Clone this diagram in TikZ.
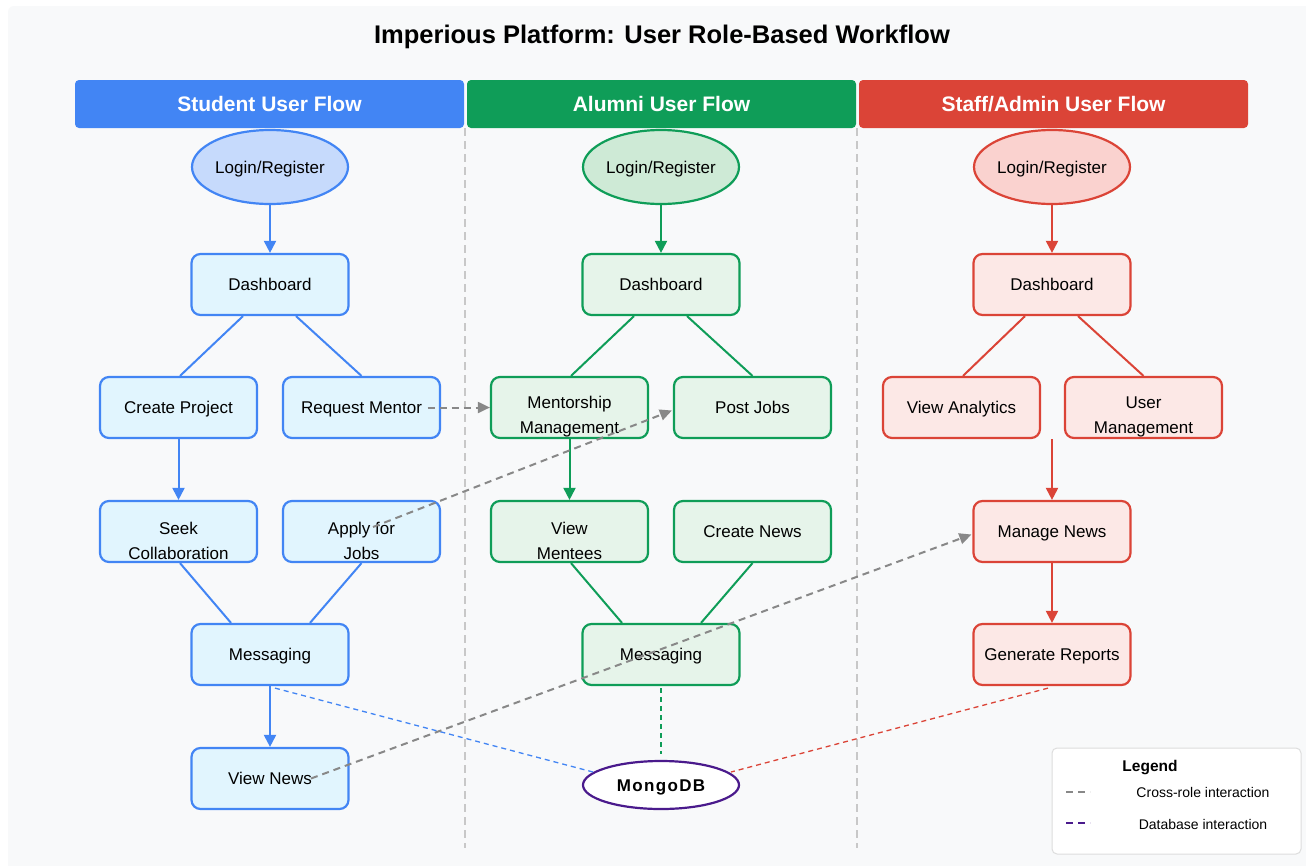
\documentclass[tikz,border=0pt]{standalone}
\usepackage{fontspec}
\setmainfont{Liberation Sans}
\usetikzlibrary{arrows.meta,shapes.geometric,calc}
\definecolor{panel}{HTML}{F8F9FA}
\definecolor{sblue}{HTML}{4285F4}
\definecolor{sfill}{HTML}{E1F5FE}
\definecolor{sell}{HTML}{C6DAFC}
\definecolor{agreen}{HTML}{0F9D58}
\definecolor{afill}{HTML}{E6F4EA}
\definecolor{aell}{HTML}{CEEAD6}
\definecolor{rred}{HTML}{DB4437}
\definecolor{rfill}{HTML}{FCE8E6}
\definecolor{rell}{HTML}{FAD2CF}
\definecolor{divc}{HTML}{C8C8C8}
\definecolor{crossc}{HTML}{888888}
\definecolor{mpurple}{HTML}{4A1A8C}
\definecolor{legc}{HTML}{DDDDDD}
\begin{document}
\begin{tikzpicture}[x=1pt,y=-1pt,
  hdr/.style={rounded corners=4pt, minimum width=389pt, minimum height=48pt, inner sep=0pt,
    text=white, font=\bfseries\fontsize{21}{24}\selectfont, text height=15pt, text depth=0pt},
  box/.style={draw, rounded corners=9pt, line width=2.2pt, minimum width=157pt, minimum height=61pt,
    inner sep=0pt, font=\fontsize{17}{25}\selectfont, align=center, text height=12.5pt, text depth=0pt},
  login/.style={ellipse, draw, line width=2.2pt, minimum width=156pt, minimum height=74pt, inner sep=0pt,
    font=\fontsize{17}{20}\selectfont, text height=12.5pt, text depth=0pt},
  two/.style={label={[font=\fontsize{17}{25}\selectfont, align=center, yshift=-9pt]center:#1}},
  sbox/.style={box, draw=sblue, fill=sfill},
  abox/.style={box, draw=agreen, fill=afill},
  rbox/.style={box, draw=rred, fill=rfill},
  tip/.style={-{Triangle[length=12pt,width=12pt]}},
  sflow/.style={draw=sblue, line width=2pt},
  aflow/.style={draw=agreen, line width=2pt},
  rflow/.style={draw=rred, line width=2pt},
  cross/.style={draw=crossc, line width=2pt, dash pattern=on 7pt off 5pt,
    -{Triangle[length=12pt,width=11pt]}},
  dbline/.style={line width=1.3pt, dash pattern=on 5pt off 4pt},
  divider/.style={draw=divc, line width=2pt, dash pattern=on 8pt off 5pt},
  legtext/.style={font=\fontsize{14}{16}\selectfont}
]
\useasboundingbox (0,0) rectangle (1306,865);
\fill[white] (0,0) rectangle (1306,865);
\fill[panel, rounded corners=6pt] (8,6) rectangle (1320,880);

% title
\node[font=\bfseries\fontsize{25.5}{28}\selectfont, text height=18.5pt, text depth=0pt] (title) at (662,34) {Imperious Platform: User Role-Based Workflow};

% dividers
\draw[divider] (465,128) -- (465,848);
\draw[divider] (857,128) -- (857,848);

% headers
\node[hdr, fill=sblue] (hs) at (269.5,104) {Student User Flow};
\node[hdr, fill=agreen] (ha) at (661.5,104) {Alumni User Flow};
\node[hdr, fill=rred] (hr) at (1053.5,104) {Staff/Admin User Flow};

% student column
\node[login, draw=sblue, fill=sell] (slog) at (270,167) {Login/Register};
\node[sbox] (sdash) at (270,284.5) {Dashboard};
\node[sbox] (scp) at (178.5,407.5) {Create Project};
\node[sbox] (sreq) at (361.5,407.5) {Request Mentor};
\node[sbox, two={Seek\\Collaboration}] (sseek) at (178.5,531.5) {};
\node[sbox, two={Apply for\\Jobs}] (sapp) at (361.5,531.5) {};
\node[sbox] (smsg) at (270,654.5) {Messaging};
\node[sbox] (svn) at (270,778.5) {View News};

\draw[sflow, tip] (slog.south) -- (sdash.north);
\draw[sflow] ($(sdash.south)+(-27,0)$) -- ($(scp.north)+(1.5,0)$);
\draw[sflow] ($(sdash.south)+(26,0)$) -- ($(sreq.north)+(0,0)$);
\draw[sflow, tip] (scp.south) -- (sseek.north);
\draw[sflow] ($(sseek.south)+(1.5,0)$) -- ($(smsg.north)+(-39,0)$);
\draw[sflow] (sapp.south) -- ($(smsg.north)+(40,0)$);
\draw[sflow, tip] (smsg.south) -- (svn.north);

% alumni column
\node[login, draw=agreen, fill=aell] (alog) at (661,167) {Login/Register};
\node[abox] (adash) at (661,284.5) {Dashboard};
\node[abox, two={Mentorship\\Management}] (amm) at (569.5,407.5) {};
\node[abox] (apj) at (752.5,407.5) {Post Jobs};
\node[abox, two={View\\Mentees}] (avm) at (569.5,531.5) {};
\node[abox] (acn) at (752.5,531.5) {Create News};
\node[abox] (amsg) at (661,654.5) {Messaging};

\draw[aflow, tip] (alog.south) -- (adash.north);
\draw[aflow] ($(adash.south)+(-27,0)$) -- ($(amm.north)+(1.5,0)$);
\draw[aflow] ($(adash.south)+(26,0)$) -- (apj.north);
\draw[aflow, tip] (amm.south) -- (avm.north);
\draw[aflow] ($(avm.south)+(1.5,0)$) -- ($(amsg.north)+(-39,0)$);
\draw[aflow] (acn.south) -- ($(amsg.north)+(40,0)$);

% staff column
\node[login, draw=rred, fill=rell] (rlog) at (1052,167) {Login/Register};
\node[rbox] (rdash) at (1052,284.5) {Dashboard};
\node[rbox] (rva) at (961.5,407.5) {View Analytics};
\node[rbox, two={User\\Management}] (rum) at (1143.5,407.5) {};
\node[rbox] (rmn) at (1052,531.5) {Manage News};
\node[rbox] (rgr) at (1052,654.5) {Generate Reports};
\coordinate (rsplit) at (1052,439);

\draw[rflow, tip] (rlog.south) -- (rdash.north);
\draw[rflow] ($(rdash.south)+(-27,0)$) -- ($(rva.north)+(1.5,0)$);
\draw[rflow] ($(rdash.south)+(26,0)$) -- (rum.north);
\draw[rflow, tip] (rsplit) -- (rmn.north);
\draw[rflow, tip] (rmn.south) -- (rgr.north);

% database
\node[ellipse, draw=mpurple, fill=white, line width=2.2pt, minimum width=156pt, minimum height=48pt,
  inner sep=0pt, text height=12.5pt, text depth=0pt,
  font=\bfseries\fontsize{17}{20}\selectfont\addfontfeatures{LetterSpace=8}] (mongo) at (661,785) {MongoDB};

\draw[dbline, draw=sblue] ($(smsg.south)+(5,2)$) -- ($(mongo.center)+(-68,-13)$);
\draw[dbline, draw=agreen] ($(amsg.south)+(0,2)$) -- ($(mongo.north)+(0,-6)$);
\draw[dbline, draw=rred] ($(rgr.south)+(-4,2)$) -- ($(mongo.center)+(70,-13)$);

% cross-role interactions
\draw[cross] ($(sreq.center)+(66,0)$) -- (amm.west);
\draw[cross] ($(sapp.center)+(11.5,-4.5)$) -- ($(apj.west)+(-1,3)$);
\draw[cross] ($(svn.center)+(41,0)$) -- ($(rmn.west)+(-1,3)$);

% legend
\node[draw=legc, fill=white, line width=1pt, rounded corners=5pt, minimum width=249pt, minimum height=106pt,
  inner sep=0pt] (legend) at (1176.5,801) {};
\node[font=\bfseries\fontsize{15.5}{18}\selectfont] (legt) at (1150,768) {Legend};
\draw[draw=crossc, line width=1.3pt, dash pattern=on 7pt off 5pt] (1066,792) -- (1090,792);
\node[legtext] (leg1) at (1203,792) {Cross-role interaction};
\draw[draw=mpurple, line width=1.3pt, dash pattern=on 7pt off 5pt] (1066,823) -- (1090,823);
\node[legtext] (leg2) at (1203,824) {Database interaction};
\end{tikzpicture}
\end{document}
